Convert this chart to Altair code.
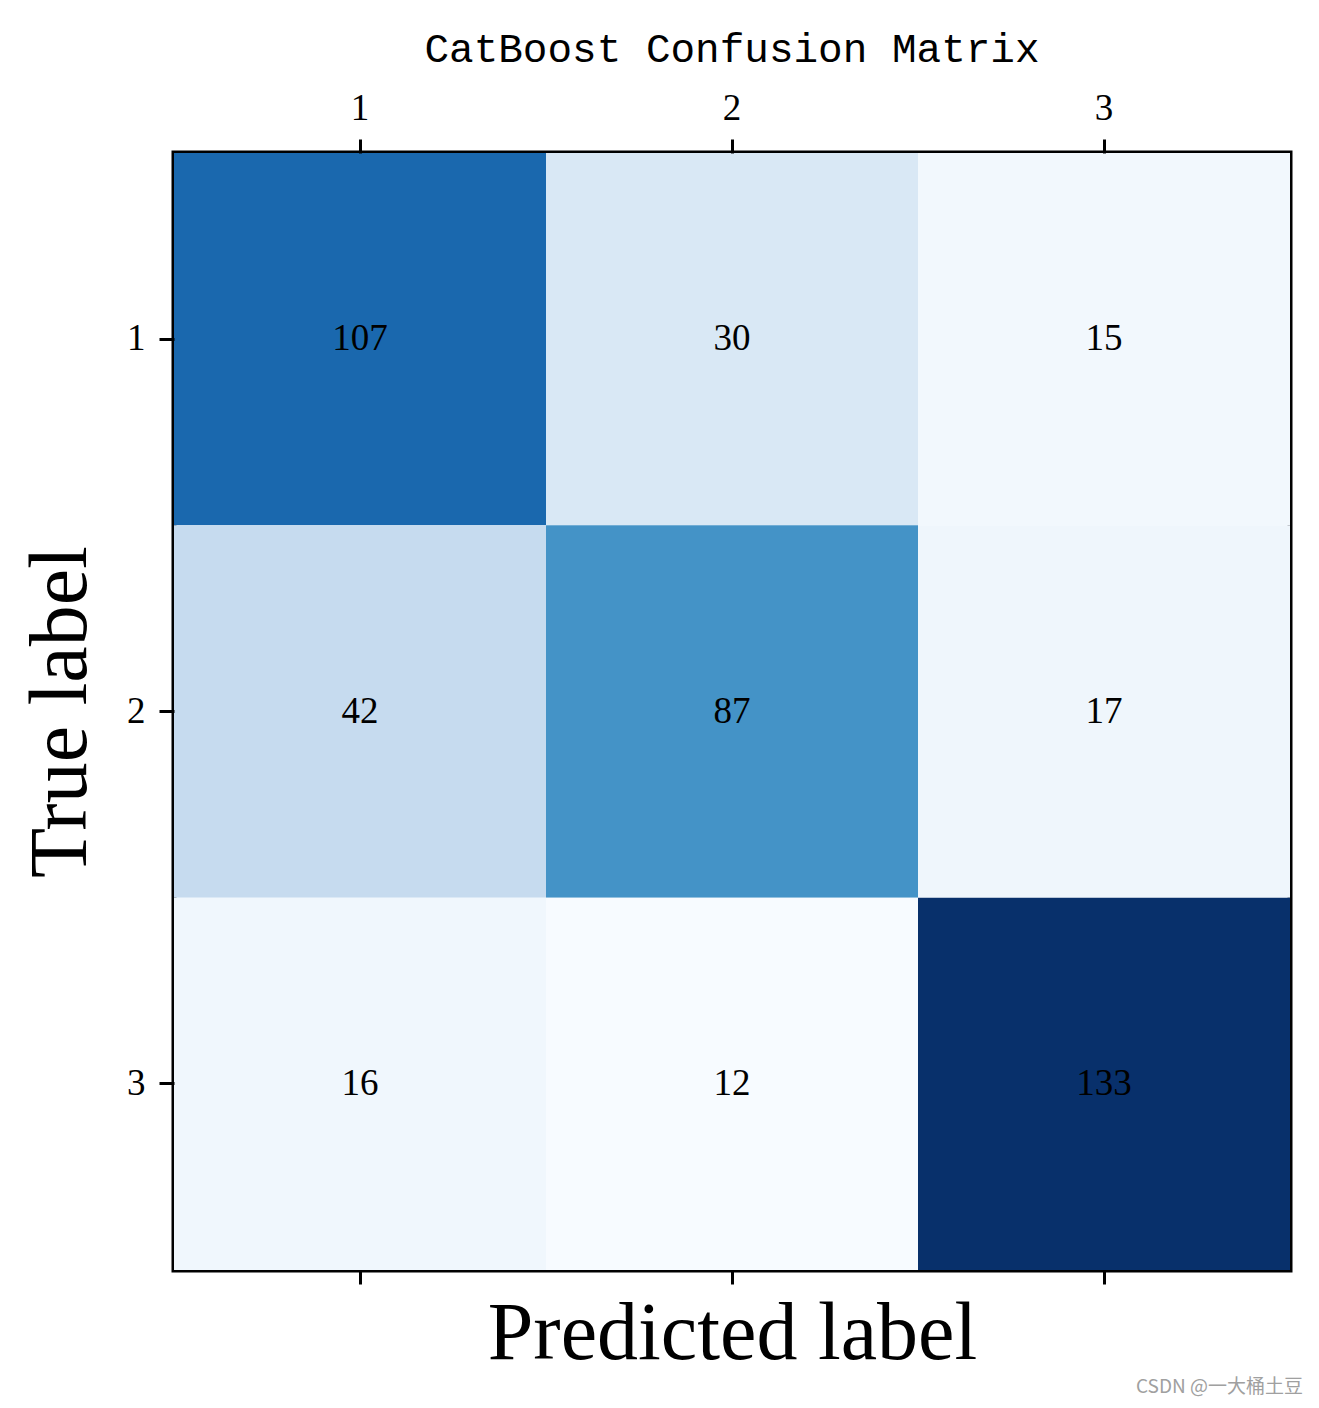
import altair as alt
import numpy as np
import pandas as pd

# ---- data ----
classes = ["1", "2", "3"]
row_1 = [107, 30, 15]
row_2 = [42, 87, 17]
row_3 = [16, 12, 133]
matrix = [row_1, row_2, row_3]

title_text = "CatBoost Confusion Matrix"
x_title = "Predicted label"
y_title = "True label"
watermark = "CSDN @一大桶土豆"

records = []
for i, t in enumerate(classes):
    for j, p in enumerate(classes):
        records.append({"true": t, "pred": p, "count": matrix[i][j]})
df = pd.DataFrame(records)

vmin = float(df["count"].min())
vmax = float(df["count"].max())
blues9 = ["#f7fbff", "#deebf7", "#c6dbef", "#9ecae1", "#6baed6",
          "#4292c6", "#2171b5", "#08519c", "#08306b"]
color_domain = [float(v) for v in np.linspace(vmin, vmax, len(blues9))]

serif = "Liberation Serif"

x_scale = alt.Scale(domain=classes, paddingInner=0, paddingOuter=0)
y_scale = alt.Scale(domain=classes, paddingInner=0, paddingOuter=0)

top_axis = alt.Axis(orient="top", labelAngle=0, title=None, domain=False,
                    labelFont=serif, labelFontSize=37, labelColor="black",
                    tickSize=14, tickWidth=3, tickColor="black",
                    labelPadding=12)
bottom_axis = alt.Axis(orient="bottom", labels=False, domain=False,
                       tickSize=14, tickWidth=3, tickColor="black",
                       title=x_title, titleFont=serif, titleFontSize=82,
                       titleFontWeight="normal", titleColor="black",
                       titlePadding=8)
left_axis = alt.Axis(orient="left", labelAngle=0, domain=False,
                     labelFont=serif, labelFontSize=37, labelColor="black",
                     tickSize=15, tickWidth=3, tickColor="black",
                     labelPadding=14,
                     title=y_title, titleFont=serif, titleFontSize=82,
                     titleFontWeight="normal", titleColor="black",
                     titlePadding=24)

rects = alt.Chart(df).mark_rect().encode(
    x=alt.X("pred:N", scale=x_scale, axis=top_axis, sort=classes),
    y=alt.Y("true:N", scale=y_scale, axis=left_axis, sort=classes),
    color=alt.Color("count:Q",
                    scale=alt.Scale(domain=color_domain, range=blues9,
                                    interpolate="rgb"),
                    legend=None),
)

texts = alt.Chart(df).mark_text(font=serif, fontSize=37, color="black",
                                baseline="middle", align="center").encode(
    x=alt.X("pred:N", scale=x_scale, axis=bottom_axis, sort=classes),
    y=alt.Y("true:N", scale=y_scale, axis=left_axis, sort=classes),
    text=alt.Text("count:Q"),
)

wm = alt.Chart(pd.DataFrame({"t": [watermark]})).mark_text(
    font="Noto Sans CJK SC", fontSize=19, color="#a0a0a0",
    align="right", baseline="alphabetic").encode(
    x=alt.value(1129), y=alt.value(1240), text="t:N")

chart = alt.layer(rects, texts, wm).resolve_axis(x="independent").properties(
    width=1116, height=1117,
    title=alt.TitleParams(title_text, font="Liberation Mono", fontSize=41,
                          fontWeight="normal", color="black", anchor="middle",
                          offset=18),
    autosize=alt.AutoSizeParams(type="none"),
    padding={"left": 166, "top": 145, "right": 15, "bottom": 128},
    background="white",
).configure_view(stroke="black", strokeWidth=5)

chart.save("out.html", embed_options={"renderer": "svg", "actions": False})
